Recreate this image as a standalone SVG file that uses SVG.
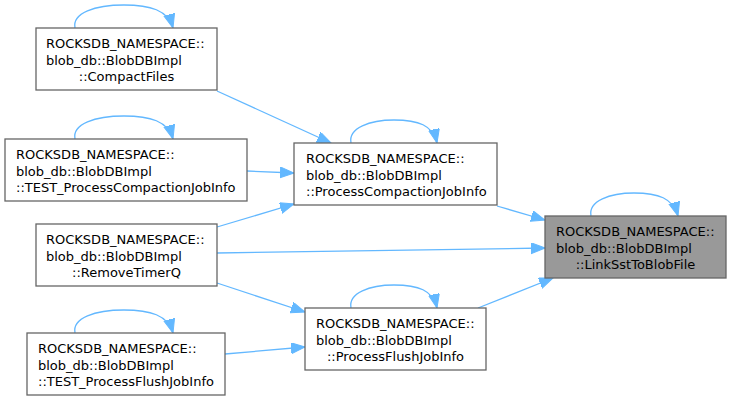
<svg xmlns="http://www.w3.org/2000/svg" width="732" height="400" viewBox="0 0 732 400">
<defs>
<marker id="ah" markerUnits="userSpaceOnUse" markerWidth="15" markerHeight="12" refX="14" refY="5.5" orient="auto">
<path d="M0,0 L14,5.5 L0,11 Z" fill="#63b8ff" stroke="#63b8ff" stroke-width="1"/>
</marker>
<style>
.n rect{fill:#ffffff;stroke:#666666;stroke-width:1.3}
.n.hl rect{fill:#999999}
.n text{font-family:"DejaVu Sans",sans-serif;font-size:13px;fill:#000000}
.e path{fill:none;stroke:#63b8ff;stroke-width:1.3;marker-end:url(#ah)}
</style>
</defs>
<rect width="732" height="400" fill="#ffffff"/>
<g id="edges" class="e">
<path d="M217,91 L331,143"/>
<path d="M247,171 L294,173"/>
<path d="M217,227 L294,204"/>
<path d="M217,253 L545,248"/>
<path d="M217,283 L305,312"/>
<path d="M225,354 L305,347"/>
<path d="M497,206 L545,220"/>
<path d="M478,308 L553,278"/>
<path d="M75,28 C72,13 95,5 124,5 C150,5 168,10 173,28"/>
<path d="M75,139 C72,124 95,116 124,116 C150,116 168,121 173,139"/>
<path d="M351,143 C348,128 370,120 394,120 C418,120 433,125 437,143"/>
<path d="M591,216 C588,201 610,193 634,193 C658,193 673,198 678,216"/>
<path d="M351,308 C348,293 370,285 394,285 C418,285 433,290 437,308"/>
<path d="M75,333 C72,318 95,310 124,310 C150,310 168,315 173,333"/>
</g>
<g id="node_compactfiles" class="n">
<rect x="36" y="28" width="181" height="62"/>
<text x="46" y="48">ROCKSDB_NAMESPACE::</text>
<text x="46" y="64.5">blob_db::BlobDBImpl</text>
<text x="126.5" y="81" text-anchor="middle">::CompactFiles</text>
</g>
<g id="node_test_processcompactionjobinfo" class="n">
<rect x="5" y="139" width="242" height="62"/>
<text x="16" y="159">ROCKSDB_NAMESPACE::</text>
<text x="16" y="175.5">blob_db::BlobDBImpl</text>
<text x="16" y="192">::TEST_ProcessCompactionJobInfo</text>
</g>
<g id="node_removetimerq" class="n">
<rect x="36" y="224" width="181" height="62"/>
<text x="46" y="244">ROCKSDB_NAMESPACE::</text>
<text x="46" y="260.5">blob_db::BlobDBImpl</text>
<text x="126.5" y="277" text-anchor="middle">::RemoveTimerQ</text>
</g>
<g id="node_test_processflushjobinfo" class="n">
<rect x="27" y="333" width="198" height="62"/>
<text x="38" y="353">ROCKSDB_NAMESPACE::</text>
<text x="38" y="369.5">blob_db::BlobDBImpl</text>
<text x="38" y="386">::TEST_ProcessFlushJobInfo</text>
</g>
<g id="node_processcompactionjobinfo" class="n">
<rect x="294" y="143" width="203" height="62"/>
<text x="306" y="163">ROCKSDB_NAMESPACE::</text>
<text x="306" y="179.5">blob_db::BlobDBImpl</text>
<text x="306" y="196">::ProcessCompactionJobInfo</text>
</g>
<g id="node_processflushjobinfo" class="n">
<rect x="305" y="308" width="181" height="62"/>
<text x="316" y="328">ROCKSDB_NAMESPACE::</text>
<text x="316" y="344.5">blob_db::BlobDBImpl</text>
<text x="395.5" y="361" text-anchor="middle">::ProcessFlushJobInfo</text>
</g>
<g id="node_linkssttoblobfile" class="n hl">
<rect x="545" y="216" width="181" height="62"/>
<text x="556" y="236">ROCKSDB_NAMESPACE::</text>
<text x="556" y="252.5">blob_db::BlobDBImpl</text>
<text x="635.5" y="269" text-anchor="middle">::LinkSstToBlobFile</text>
</g>
</svg>
